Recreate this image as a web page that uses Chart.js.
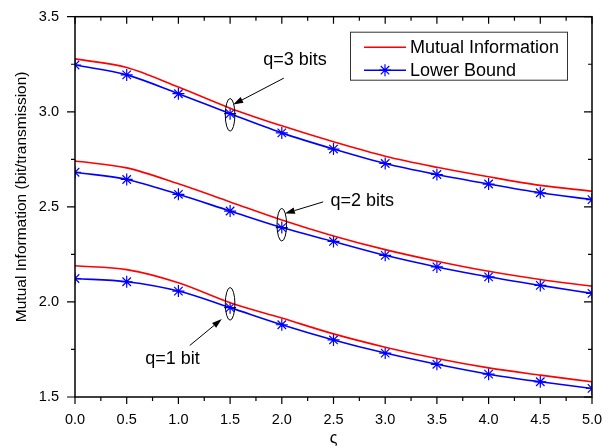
<!DOCTYPE html>
<html>
<head>
<meta charset="utf-8">
<script src="https://cdn.jsdelivr.net/npm/chart.js@4/dist/chart.umd.min.js"></script>
<style>
  html, body { margin: 0; padding: 0; background: #fff; }
  #wrap { width: 616px; height: 448px; }
</style>
</head>
<body>
<div id="wrap"><canvas id="c" width="616" height="448"></canvas></div>
<script>
// ---- data ----
const xValues = [0, 0.5, 1, 1.5, 2, 2.5, 3, 3.5, 4, 4.5, 5];
const mi_q3 = [3.278, 3.233, 3.130, 3.019, 2.926, 2.842, 2.766, 2.708, 2.658, 2.613, 2.582];
const lb_q3 = [3.246, 3.194, 3.095, 2.990, 2.889, 2.804, 2.728, 2.670, 2.620, 2.574, 2.538];
const mi_q2 = [2.741, 2.705, 2.621, 2.526, 2.431, 2.347, 2.275, 2.214, 2.161, 2.118, 2.083];
const lb_q2 = [2.682, 2.644, 2.566, 2.478, 2.391, 2.318, 2.245, 2.184, 2.132, 2.087, 2.045];
const mi_q1 = [2.190, 2.170, 2.101, 1.996, 1.915, 1.832, 1.762, 1.702, 1.653, 1.615, 1.580];
const lb_q1 = [2.123, 2.106, 2.057, 1.970, 1.880, 1.800, 1.731, 1.672, 1.620, 1.580, 1.545];
const xTickValues = [0, 0.5, 1, 1.5, 2, 2.5, 3, 3.5, 4, 4.5, 5];
const yTickValues = [1.5, 2.0, 2.5, 3.0, 3.5];
const seriesNames = ['Mutual Information', 'Lower Bound'];
const xTitle = 'ς';
const yTitle = 'Mutual Information (bit/transmission)';
// annotation labels (data coordinates)
const annoLabels = ['q=3 bits', 'q=2 bits', 'q=1 bit'];
const annoTextX = [1.82, 2.47, 0.68];
const annoTextY = [3.271, 2.531, 1.698];
const arrowFromX = [2.02, 2.40, 1.11];
const arrowFromY = [3.177, 2.526, 1.771];
const arrowToX = [1.53, 2.03, 1.42];
const arrowToY = [3.038, 2.465, 1.910];
const ellipseX = [1.5, 2.0, 1.5];
const ellipseY = [2.984, 2.406, 1.990];

const RED = '#ff0000';
const BLUE = '#0000ff';
const FONT = '"Liberation Sans", Arial, sans-serif';

function pts(ys) { return xValues.map((x, i) => ({ x: x, y: ys[i] })); }

function redDs(ys) {
  return { label: seriesNames[0], data: pts(ys), borderColor: RED, backgroundColor: RED,
    borderWidth: 1.6, pointRadius: 0, cubicInterpolationMode: 'monotone', fill: false };
}
function blueDs(ys) {
  return { label: seriesNames[1], data: pts(ys), borderColor: BLUE, backgroundColor: BLUE,
    borderWidth: 1.6, pointStyle: 'star', pointRadius: 6, pointBorderWidth: 1.2,
    pointBorderColor: BLUE, cubicInterpolationMode: 'monotone', fill: false };
}

function drawStar(ctx, x, y, r) {
  ctx.beginPath();
  for (let k = 0; k < 4; k++) {
    const a = k * Math.PI / 4;
    ctx.moveTo(x - r * Math.cos(a), y - r * Math.sin(a));
    ctx.lineTo(x + r * Math.cos(a), y + r * Math.sin(a));
  }
  ctx.stroke();
}

const framePlugin = {
  id: 'frame',
  afterDatasetsDraw(chart) {
    const ctx = chart.ctx, a = chart.chartArea;
    const xs = chart.scales.x, ys = chart.scales.y;
    ctx.save();
    ctx.strokeStyle = '#000';
    ctx.lineWidth = 1.5;
    ctx.strokeRect(a.left, a.top, a.right - a.left, a.bottom - a.top);
    ctx.lineWidth = 1.2;
    ctx.beginPath();
    for (let v = 0; v <= 5.0001; v += 0.25) {
      const major = Math.abs(v * 2 - Math.round(v * 2)) < 1e-6;
      const L = major ? 7 : 4;
      const px = xs.getPixelForValue(v);
      ctx.moveTo(px, a.bottom); ctx.lineTo(px, a.bottom + L);
      ctx.moveTo(px, a.top); ctx.lineTo(px, a.top + L);
    }
    for (let v = 1.5; v <= 3.5001; v += 0.25) {
      const major = Math.abs(v * 2 - Math.round(v * 2)) < 1e-6;
      const L = major ? 8 : 4;
      const py = ys.getPixelForValue(v);
      ctx.moveTo(a.left, py); ctx.lineTo(a.left - L, py);
      ctx.moveTo(a.right, py); ctx.lineTo(a.right - L, py);
    }
    ctx.stroke();
    // y axis title
    ctx.fillStyle = '#000';
    ctx.font = '15.5px ' + FONT;
    ctx.textAlign = 'center';
    ctx.textBaseline = 'middle';
    ctx.translate(22, (a.top + a.bottom) / 2 - 10);
    ctx.rotate(-Math.PI / 2);
    ctx.fillText(yTitle, 0, 0);
    ctx.restore();
  }
};

const annoPlugin = {
  id: 'anno',
  afterDatasetsDraw(chart) {
    const ctx = chart.ctx;
    const xs = chart.scales.x, ys = chart.scales.y;
    ctx.save();
    ctx.strokeStyle = '#000';
    ctx.fillStyle = '#000';
    ctx.lineWidth = 1;
    for (let i = 0; i < ellipseX.length; i++) {
      const cx = xs.getPixelForValue(ellipseX[i]);
      const cy = ys.getPixelForValue(ellipseY[i]);
      ctx.beginPath();
      ctx.ellipse(cx, cy, 4.8, 16.3, 0, 0, Math.PI * 2);
      ctx.stroke();
    }
    for (let i = 0; i < arrowFromX.length; i++) {
      const x1 = xs.getPixelForValue(arrowFromX[i]), y1 = ys.getPixelForValue(arrowFromY[i]);
      const x2 = xs.getPixelForValue(arrowToX[i]), y2 = ys.getPixelForValue(arrowToY[i]);
      const ang = Math.atan2(y2 - y1, x2 - x1);
      const hl = 10, hw = 3.2;
      const bx = x2 - hl * Math.cos(ang), by = y2 - hl * Math.sin(ang);
      ctx.beginPath();
      ctx.moveTo(x1, y1); ctx.lineTo(bx, by);
      ctx.stroke();
      ctx.beginPath();
      ctx.moveTo(x2, y2);
      ctx.lineTo(bx + hw * Math.sin(ang), by - hw * Math.cos(ang));
      ctx.lineTo(bx - hw * Math.sin(ang), by + hw * Math.cos(ang));
      ctx.closePath();
      ctx.fill();
    }
    ctx.font = '18px ' + FONT;
    ctx.textAlign = 'left';
    ctx.textBaseline = 'middle';
    for (let i = 0; i < annoLabels.length; i++) {
      ctx.fillText(annoLabels[i], xs.getPixelForValue(annoTextX[i]), ys.getPixelForValue(annoTextY[i]));
    }
    ctx.restore();
  }
};

const legendPlugin = {
  id: 'customLegend',
  afterDraw(chart) {
    const ctx = chart.ctx, a = chart.chartArea;
    const right = a.right - 25, top = a.top + 15;
    const w = 217, h = 48;
    const left = right - w;
    ctx.save();
    ctx.fillStyle = '#fff';
    ctx.fillRect(left, top, w, h);
    ctx.strokeStyle = '#333';
    ctx.lineWidth = 1;
    ctx.strokeRect(left + 0.5, top + 0.5, w, h);
    const rows = [top + 15.5, top + 38.5];
    const ds = [chart.data.datasets[0], chart.data.datasets[1]];
    ctx.font = '18px ' + FONT;
    ctx.textBaseline = 'middle';
    ctx.textAlign = 'left';
    for (let i = 0; i < 2; i++) {
      const y = rows[i];
      ctx.strokeStyle = ds[i].borderColor;
      ctx.lineWidth = 1.6;
      ctx.beginPath();
      ctx.moveTo(left + 14, y); ctx.lineTo(left + 56, y);
      ctx.stroke();
      if (i === 1) { ctx.lineWidth = 1.2; drawStar(ctx, left + 35, y, 6); }
      ctx.fillStyle = '#000';
      ctx.fillText(ds[i].label, left + 60, y + 1);
    }
    ctx.restore();
  }
};

new Chart(document.getElementById('c'), {
  type: 'line',
  data: {
    datasets: [redDs(mi_q3), blueDs(lb_q3), redDs(mi_q2), blueDs(lb_q2), redDs(mi_q1), blueDs(lb_q1)]
  },
  options: {
    responsive: false,
    animation: false,
    devicePixelRatio: 1,
    layout: { padding: { top: 13, right: 24, left: 0, bottom: 0 } },
    plugins: { legend: { display: false }, tooltip: { enabled: false } },
    scales: {
      x: {
        type: 'linear', min: 0, max: 5,
        afterBuildTicks(s) { s.ticks = xTickValues.map(v => ({ value: v })); },
        afterFit(s) { s.height = 51; },
        ticks: { callback: v => Number(v).toFixed(1), color: '#000', padding: 6,
          font: { family: FONT, size: 14.5 }, maxRotation: 0, autoSkip: false },
        grid: { display: false },
        border: { display: false },
        title: { display: true, text: xTitle, color: '#000', font: { family: FONT, size: 16 },
          padding: { top: 0, bottom: 0 } }
      },
      y: {
        type: 'linear', min: 1.5, max: 3.5,
        afterBuildTicks(s) { s.ticks = yTickValues.map(v => ({ value: v })); },
        afterFit(s) { s.width = 75; },
        ticks: { callback: v => Number(v).toFixed(1), color: '#000', padding: 8,
          font: { family: FONT, size: 14.5 }, autoSkip: false },
        grid: { display: false },
        border: { display: false },
        title: { display: false }
      }
    }
  },
  plugins: [framePlugin, annoPlugin, legendPlugin]
});
</script>
</body>
</html>
